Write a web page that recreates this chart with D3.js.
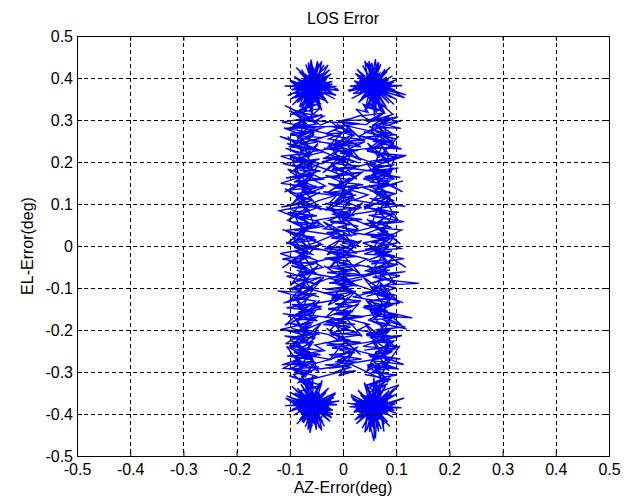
<!DOCTYPE html>
<html>
<head>
<meta charset="utf-8">
<script src="https://cdn.jsdelivr.net/npm/d3@7"></script>
<style>
    html, body { margin: 0; padding: 0; background: #fff; }
    svg { display: block; }
</style>
</head>
<body>
<svg id="chart"></svg>
<script>
// LOS error trace (AZ vs EL). Trace values are in millidegrees.

const WIDTH = 629;
const HEIGHT = 501;
const margin = { top: 36, right: 20, bottom: 45, left: 77 };

const TITLE = "LOS Error";
const X_LABEL = "AZ-Error(deg)";
const Y_LABEL = "EL-Error(deg)";

const xTicks = [-0.5, -0.4, -0.3, -0.2, -0.1, 0, 0.1, 0.2, 0.3, 0.4, 0.5];
const yTicks = [-0.5, -0.4, -0.3, -0.2, -0.1, 0, 0.1, 0.2, 0.3, 0.4, 0.5];
const tickLabels = ["-0.5", "-0.4", "-0.3", "-0.2", "-0.1", "0", "0.1", "0.2", "0.3", "0.4", "0.5"];

// trace pieces in drawing order, [az, el] in mdeg
const topLeftCluster = [
    [-57,381],[-78,362],[-41,395],[-66,352],[-49,371],[-83,389],[-60,407],[-35,376],[-71,384],[-52,358],
    [-29,389],[-64,371],[-88,377],[-55,396],[-46,342],[-73,399],[-58,366],[-39,411],[-62,384],[-80,349],
    [-51,374],[-67,392],[-23,367],[-58,355],[-75,375],[-44,387],[-61,438],[-56,398],[-92,383],[-68,365],
    [-47,361],[-33,394],[-59,379],[-72,410],[-50,386],[-86,369],[-63,345],[-40,372],[-54,403],[-77,391],
    [-58,372],[-45,352],[-26,378],[-69,383],[-53,417],[-62,362],[-81,357],[-48,397],[-57,388],[-38,363],
    [-65,376],[-98,391],[-71,368],[-52,381],[-42,404],[-60,393],[-28,431],[-49,384],[-74,351],[-63,372],
    [-55,359],[-84,379],[-46,370],[-9,373],[-44,388],[-67,402],[-59,383],[-36,348],[-70,364],[-53,391],
    [-77,384],[-61,413],[-50,367],[-32,381],[-66,396],[-56,374],[-89,362],[-64,388],[-43,356],[-58,401],
    [-72,376],[-48,391],[-62,368],[-38,399],[-79,372],[-54,385],[-67,356],[-45,379],[-13,359],[-51,370],
    [-69,389],[-57,426],[-63,394],[-40,383],[-85,396],[-58,361],[-47,374],[-73,381],[-55,343],[-66,369],
    [-49,397],[-31,371],[-61,386],[-76,363],[-53,379],[-43,408],[-68,375],[-59,392],[-95,371],[-60,380],
    [-52,364],[-37,386],[-71,398],[-64,359],[-48,377],[-57,415],[-74,387],[-45,366],[-62,378],[-54,393],
    [-80,373],[-66,350],[-41,362],[-58,388],[-70,404],[-50,382],[-34,396],[-63,365],[-55,376],[-87,388],
    [-47,358],[-61,371],[-73,394],[-52,401],[-39,378],[-65,385],[-58,362],[-20,386],[-56,373],[-76,359],
    [-62,392],[-46,381],[-54,369],[-69,378],[-81,334],[-59,352],[-43,339],[-67,329],[-52,345],[-78,326]
];

const topLeftSpikes = [
    [-55,378],[-90,352],[-60,384],[-82,415],[-52,375],[-48,440],[-58,386],[-25,420],[-61,372],[-12,380],
    [-54,381],[-28,340],[-59,376],[-62,318],[-56,383],[-95,336],[-63,379],[-100,395],[-50,372],[-70,432],
    [-57,387],[-36,431],[-62,370],[-18,362],[-53,385],[-40,322],[-60,377],[-80,330],[-55,374],[-97,372],
    [-58,390],[-88,425],[-51,379],[-60,444],[-64,383],[-30,405],[-56,371],[-20,392],[-57,382],[-45,328],
    [-61,375],[-74,315],[-53,388],[-104,358],[-59,380],[-92,404],[-55,376],[-65,437],[-62,384],[-40,440],
    [-50,373],[-15,350],[-58,379],[-33,350],[-56,385],[-58,310],[-63,374],[-86,341],[-52,381],[-110,381],
    [-57,377],[-78,420],[-60,386],[-55,425],[-54,372],[-22,410],[-61,383],[-8,370],[-56,378],[-48,338],
    [-59,384],[-70,322],[-53,376],[-99,350],[-58,381],[-85,395],[-55,380],[-45,435],[-60,377],[-28,385]
];

const leftColumnDown = [
    [-71,331],[-98,312],[-52,338],[-83,319],[-109,334],[-64,305],[-44,327],[-88,316],[-60,298],[-101,322],
    [-76,301],[-39,313],[-93,289],[-57,306],[-115,295],[-69,284],[-82,309],[-48,291],[-104,279],[-73,297],
    [-58,276],[-94,288],[-35,283],[-80,266],[-111,281],[-63,271],[-87,259],[-46,277],[-99,268],[-70,254],
    [-54,265],[-90,247],[-119,261],[-66,242],[-81,258],[-42,249],[-97,236],[-75,252],[-59,231],[-105,244],
    [-72,226],[-48,239],[-86,221],[-108,233],[-61,215],[-94,207],[-37,224],[-79,211],[-55,198],[-101,216],
    [-68,203],[-88,190],[-44,207],[-113,196],[-73,184],[-57,199],[-96,178],[-80,193],[-49,177],[-66,166],
    [-104,183],[-85,164],[-59,172],[-38,159],[-92,152],[-71,168],[-117,149],[-63,141],[-82,157],[-47,139],
    [-99,134],[-76,148],[-55,126],[-89,119],[-109,136],[-67,113],[-43,128],[-84,104],[-60,117],[-95,97],
    [-73,106],[-51,94],[-102,89],[-80,79],[-64,98],[-120,84],[-88,68],[-56,75],[-75,61],[-97,73],
    [-45,58],[-83,49],[-106,62],[-69,42],[-91,36],[-58,51],[-78,27],[-114,39],[-62,18],[-86,31],
    [-50,14],[-99,7],[-72,22],[-39,3],[-81,-6],[-107,9],[-65,-14],[-92,-3],[-55,-21],[-77,-9],
    [-118,-18],[-86,-31],[-61,-25],[-96,-42],[-46,-37],[-74,-49],[-103,-34],[-67,-58],[-88,-51],[-53,-63],
    [-79,-72],[-110,-61],[-62,-79],[-94,-86],[-41,-74],[-84,-95],[-70,-83],[-101,-104],[-57,-98],[-76,-111],
    [-123,-107],[-89,-118],[-50,-113],[-72,-126],[-98,-131],[-64,-122],[-83,-141],[-44,-135],[-106,-147],[-69,-152],
    [-91,-139],[-56,-158],[-78,-166],[-113,-161],[-63,-172],[-95,-179],[-47,-169],[-81,-188],[-102,-183],[-70,-196],
    [-59,-187],[-88,-203],[-116,-198],[-73,-212],[-45,-206],[-94,-219],[-65,-226],[-84,-214],[-108,-233],[-55,-229],
    [-77,-241],[-97,-236],[-62,-252],[-87,-247],[-42,-259],[-105,-262],[-71,-268],[-83,-257],[-54,-276],[-99,-281],
    [-67,-287],[-86,-273],[-112,-291],[-58,-298],[-79,-306],[-95,-294],[-48,-311],[-74,-318],[-101,-309],[-63,-326]
];

const bottomLeftCluster = [
    [-55,-371],[-76,-356],[-39,-389],[-64,-398],[-48,-364],[-82,-382],[-58,-412],[-33,-377],[-69,-369],[-52,-391],
    [-27,-384],[-62,-352],[-87,-373],[-54,-406],[-44,-361],[-71,-394],[-57,-381],[-38,-419],[-60,-366],[-79,-401],
    [-50,-378],[-66,-359],[-22,-392],[-57,-387],[-74,-411],[-43,-370],[-62,-433],[-53,-397],[-90,-386],[-67,-374],
    [-46,-348],[-31,-398],[-58,-383],[-73,-363],[-49,-402],[-85,-389],[-64,-414],[-40,-381],[-55,-357],[-78,-395],
    [-57,-376],[-44,-416],[-24,-369],[-68,-387],[-52,-361],[-61,-404],[-83,-379],[-47,-391],[-58,-367],[-36,-384],
    [-66,-396],[-108,-362],[-70,-378],[-51,-372],[-41,-399],[-59,-388],[-29,-357],[-48,-380],[-75,-421],[-62,-385],
    [-54,-365],[-85,-392],[-45,-375],[-14,-352],[-43,-381],[-68,-403],[-58,-390],[-35,-362],[-71,-384],[-52,-426],
    [-76,-387],[-60,-371],[-49,-394],[-31,-373],[-65,-380],[-55,-409],[-91,-377],[-63,-366],[-42,-388],[-57,-398],
    [-73,-376],[-47,-355],[-61,-383],[-37,-394],[-80,-368],[-53,-379],[-68,-413],[-44,-392],[-19,-399],[-50,-384],
    [-70,-372],[-58,-430],[-62,-389],[-39,-378],[-86,-364],[-57,-397],[-46,-386],[-74,-359],[-54,-405],[-67,-381],
    [-48,-370],[-30,-389],[-60,-377],[-77,-396],[-52,-353],[-42,-384],[-69,-391],[-58,-369],[-96,-389],[-59,-376],
    [-51,-401],[-36,-366],[-72,-379],[-63,-417],[-47,-388],[-56,-363],[-75,-374],[-44,-395],[-61,-382],[-53,-358],
    [-81,-391],[-65,-406],[-40,-383],[-57,-372],[-71,-355],[-49,-377],[-33,-368],[-62,-393],[-54,-381],[-88,-372],
    [-46,-398],[-60,-386],[-74,-367],[-51,-361],[-38,-385],[-64,-379],[-57,-402],[-21,-375],[-55,-387],[-77,-394],
    [-61,-368],[-45,-381],[-53,-393],[-68,-384],[-82,-346],[-58,-338],[-42,-331],[-66,-322],[-50,-341],[-76,-318]
];

const bottomLeftSpikes = [
    [-55,-376],[-90,-350],[-60,-380],[-82,-414],[-52,-372],[-50,-438],[-58,-384],[-24,-418],[-61,-370],[-11,-378],
    [-54,-379],[-27,-338],[-59,-374],[-63,-315],[-56,-381],[-96,-334],[-63,-377],[-101,-394],[-50,-370],[-71,-431],
    [-57,-385],[-35,-429],[-62,-368],[-17,-361],[-53,-383],[-39,-320],[-60,-375],[-79,-329],[-55,-372],[-98,-371],
    [-58,-388],[-87,-424],[-51,-377],[-62,-445],[-64,-381],[-29,-404],[-56,-369],[-19,-391],[-57,-380],[-44,-326],
    [-61,-373],[-75,-313],[-53,-386],[-106,-357],[-59,-378],[-93,-403],[-55,-374],[-66,-437],[-62,-382],[-40,-439],
    [-50,-371],[-14,-349],[-58,-377],[-32,-349],[-56,-383],[-57,-308],[-63,-372],[-86,-339],[-52,-379],[-109,-380],
    [-57,-375],[-77,-419],[-60,-384],[-54,-424],[-54,-370],[-21,-409],[-61,-381],[-7,-369],[-56,-376],[-47,-336],
    [-59,-382],[-69,-320],[-53,-374],[-100,-348],[-58,-379],[-84,-394],[-55,-378],[-44,-434],[-60,-375],[-27,-384]
];

const leftColumnUp = [
    [-93,-306],[-61,-297],[-79,-311],[-45,-288],[-104,-293],[-70,-279],[-88,-296],[-55,-274],[-115,-283],[-75,-266],
    [-49,-261],[-92,-252],[-66,-271],[-83,-243],[-39,-249],[-101,-238],[-72,-257],[-58,-232],[-95,-227],[-78,-244],
    [-53,-219],[-110,-214],[-68,-228],[-86,-203],[-44,-211],[-97,-196],[-63,-207],[-81,-188],[-118,-199],[-56,-181],
    [-76,-192],[-91,-172],[-48,-178],[-69,-163],[-103,-168],[-59,-151],[-84,-157],[-40,-144],[-96,-139],[-73,-152],
    [-52,-131],[-88,-124],[-112,-136],[-65,-117],[-80,-109],[-45,-121],[-99,-101],[-71,-94],[-57,-108],[-93,-86],
    [-76,-79],[-50,-91],[-106,-72],[-63,-66],[-87,-58],[-38,-71],[-97,-47],[-69,-53],[-82,-38],[-54,-44],
    [-114,-31],[-73,-24],[-46,-36],[-91,-13],[-60,-19],[-85,-4],[-42,-9],[-101,6],[-67,-1],[-79,14],
    [-53,21],[-95,28],[-71,12],[-109,37],[-58,44],[-84,33],[-40,52],[-98,58],[-66,49],[-77,67],
    [-49,72],[-104,79],[-62,86],[-89,71],[-43,94],[-74,101],[-116,93],[-56,109],[-83,116],[-68,104],
    [-95,124],[-51,131],[-78,121],[-36,139],[-100,146],[-64,137],[-87,154],[-47,159],[-72,166],[-107,162],
    [-59,174],[-82,181],[-42,178],[-96,193],[-66,187],[-53,201],[-89,208],[-74,196],[-117,214],[-61,221],
    [-85,216],[-44,229],[-102,236],[-69,243],[-57,231],[-93,252],[-76,246],[-38,258],[-99,264],[-63,271],
    [-81,262],[-50,283],[-108,279],[-71,291],[-88,301],[-55,296],[-36,309],[-77,316],[-60,304],[-43,288],
    [-24,297],[-7,281],[-31,268],[4,289],[-16,276],[22,262],[-12,291],[9,274],[-27,255],[14,246]
];

const middleColumnDown = [
    [-18,252],[27,241],[-5,259],[34,236],[-29,244],[8,231],[-14,238],[41,248],[2,226],[-36,233],
    [19,219],[-9,227],[-31,212],[12,205],[-21,221],[30,198],[-3,209],[-40,201],[16,192],[-12,214],
    [6,186],[-26,179],[25,188],[-7,171],[37,176],[-17,164],[11,158],[-33,168],[0,151],[22,163],
    [-14,144],[31,137],[-28,149],[7,131],[-5,141],[18,124],[-37,129],[3,117],[26,110],[-11,122],
    [-24,104],[13,97],[-4,109],[35,91],[-19,86],[9,79],[-32,93],[21,73],[-8,66],[15,81],
    [-27,61],[4,54],[29,47],[-13,58],[-36,41],[11,35],[-2,48],[24,27],[-20,22],[7,16],
    [33,8],[-10,12],[-29,-2],[17,-8],[-5,4],[26,-17],[-22,-13],[3,-24],[-35,-29],[13,-36],
    [-8,-41],[30,-47],[-17,-53],[9,-59],[-30,-63],[21,-71],[-3,-66],[-24,-78],[15,-85],[36,-79],
    [-12,-91],[5,-97],[-33,-103],[24,-108],[-6,-115],[-21,-121],[11,-127],[32,-133],[-15,-138],[1,-145],
    [-28,-151],[19,-156],[-9,-163],[40,-168],[-19,-174],[7,-181],[-37,-187],[14,-193],[-4,-198],[27,-205],
    [-23,-211],[3,-217],[-14,-224],[33,-229],[-31,-236],[10,-241],[-6,-248],[22,-254],[-26,-259],[6,-266],
    [-11,-272],[29,-277],[-34,-283],[16,-289],[-2,-294],[-19,-302],[24,-297],[-8,-309],[11,-286],[-27,-291]
];

const middleColumnUp = [
    [18,-281],[-15,-276],[35,-269],[-4,-262],[-30,-271],[9,-255],[26,-248],[-21,-243],[2,-236],[-36,-230],
    [14,-224],[-9,-219],[31,-212],[-25,-207],[5,-199],[-13,-192],[23,-186],[-32,-181],[-1,-175],[37,-169],
    [-18,-162],[10,-156],[-28,-149],[19,-143],[-6,-137],[34,-131],[-22,-124],[1,-118],[-37,-112],[15,-106],
    [-10,-99],[28,-93],[-26,-88],[6,-81],[-16,-74],[39,-69],[-3,-63],[20,-57],[-33,-51],[12,-44],
    [-8,-38],[-27,-31],[24,-25],[-14,-19],[8,-12],[-35,-6],[30,1],[-2,7],[16,14],[-22,19],
    [4,26],[-31,32],[27,38],[-11,45],[13,51],[-24,57],[36,63],[-5,70],[-19,76],[9,83],
    [31,89],[-14,95],[-34,101],[18,108],[-3,114],[25,121],[-27,127],[7,133],[-16,139],[38,146],
    [-8,152],[14,158],[-30,165],[21,171],[-1,177],[-20,184],[33,190],[-12,196],[5,203],[-38,209],
    [17,215],[-6,221],[29,228],[-25,234],[10,240],[-15,247],[42,253],[-3,259],[-32,266],[19,272],
    [4,278],[-20,284],[31,291],[-9,297],[14,303],[36,312],[24,326],[47,318],[38,337],[55,329]
];

const topRightCluster = [
    [56,372],[78,388],[41,359],[63,401],[49,381],[84,366],[59,394],[35,377],[70,353],[52,386],
    [28,369],[65,397],[89,382],[54,358],[45,408],[74,374],[58,363],[39,391],[62,417],[81,379],
    [50,386],[67,369],[22,392],[57,351],[76,398],[43,376],[54,436],[61,389],[93,371],[68,383],
    [47,364],[33,391],[59,374],[72,347],[51,401],[86,387],[64,361],[40,382],[55,412],[79,369],
    [58,379],[44,397],[25,373],[69,366],[53,424],[62,385],[82,402],[48,356],[57,391],[37,381],
    [66,372],[116,353],[71,384],[52,393],[42,362],[61,377],[67,437],[49,398],[75,388],[63,366],
    [55,381],[85,359],[46,379],[11,368],[44,393],[68,374],[59,352],[36,386],[71,405],[53,371],
    [77,392],[60,364],[50,383],[31,396],[66,377],[56,409],[90,386],[64,371],[43,355],[58,389],
    [73,376],[48,367],[62,395],[38,382],[80,361],[54,372],[67,402],[45,387],[104,364],[51,379],
    [70,391],[57,415],[63,373],[40,361],[86,383],[58,396],[47,377],[74,366],[55,426],[66,385],
    [49,358],[30,381],[61,392],[77,371],[53,362],[43,385],[69,411],[59,378],[96,391],[60,369],
    [52,388],[37,372],[72,359],[64,394],[48,379],[57,348],[75,382],[45,401],[62,367],[54,384],
    [81,396],[66,374],[41,386],[58,365],[71,378],[50,399],[34,369],[63,382],[55,357],[88,373],
    [47,392],[61,380],[73,363],[52,375],[39,387],[65,368],[57,394],[19,381],[56,366],[76,384],
    [62,371],[46,357],[54,345],[69,338],[82,329],[58,342],[43,331],[67,322],[51,336],[78,317]
];

const topRightSpikes = [
    [56,379],[91,353],[60,383],[83,416],[52,374],[49,441],[58,387],[26,421],[61,371],[13,381],
    [54,382],[29,341],[59,375],[63,317],[56,384],[96,337],[63,378],[101,396],[50,373],[71,433],
    [57,386],[37,430],[62,369],[19,363],[53,386],[41,321],[60,376],[81,331],[55,375],[98,371],
    [58,391],[89,426],[51,378],[61,445],[64,382],[31,406],[56,372],[21,393],[57,381],[46,327],
    [61,374],[75,314],[53,389],[118,360],[59,379],[93,405],[55,377],[66,438],[62,383],[41,441],
    [50,374],[16,351],[58,378],[34,351],[56,386],[59,309],[63,373],[87,340],[52,382],[111,382],
    [57,376],[79,421],[60,387],[56,426],[54,371],[23,411],[61,382],[9,371],[56,379],[49,337],
    [59,383],[71,321],[53,377],[100,349],[58,380],[86,396],[55,381],[46,436],[60,376],[29,386]
];

const rightColumnDown = [
    [94,313],[61,301],[79,319],[44,296],[103,307],[70,291],[88,311],[55,287],[112,299],[74,283],
    [50,276],[92,268],[66,289],[83,261],[39,272],[101,254],[72,266],[58,249],[96,244],[78,259],
    [53,236],[110,231],[68,247],[86,219],[45,226],[97,212],[63,223],[81,205],[119,216],[56,198],
    [76,209],[91,189],[48,195],[69,181],[104,186],[59,171],[84,176],[41,165],[97,159],[73,171],
    [52,152],[88,146],[113,155],[65,138],[80,131],[46,142],[99,124],[71,117],[57,129],[94,109],
    [76,103],[50,114],[107,96],[63,89],[87,83],[39,93],[98,74],[69,79],[82,64],[54,71],
    [115,58],[73,52],[46,62],[91,44],[60,38],[85,49],[42,29],[101,23],[67,31],[79,15],
    [53,9],[95,2],[71,17],[109,-6],[58,-11],[84,-1],[40,-19],[98,-24],[66,-14],[77,-33],
    [49,-37],[104,-44],[62,-51],[89,-39],[43,-59],[74,-66],[117,-61],[56,-74],[83,-81],[143,-89],
    [92,-92],[51,-98],[78,-104],[36,-111],[100,-117],[64,-109],[87,-126],[47,-132],[72,-139],[107,-135],
    [59,-147],[82,-153],[42,-149],[96,-161],[130,-171],[66,-167],[53,-179],[89,-186],[74,-174],[117,-193],
    [61,-199],[85,-206],[44,-213],[102,-218],[69,-211],[56,-226],[93,-233],[76,-221],[38,-239],[99,-245],
    [63,-251],[81,-258],[50,-264],[108,-269],[71,-262],[88,-277],[45,-283],[96,-289],[66,-296],[79,-282],
    [54,-301],[101,-307],[72,-313],[41,-306],[90,-318],[62,-324],[83,-311],[49,-331],[75,-337],[58,-328]
];

const bottomRightCluster = [
    [55,-372],[77,-388],[40,-361],[64,-399],[48,-379],[84,-367],[60,-395],[34,-380],[71,-354],[52,-389],
    [27,-371],[66,-401],[89,-384],[55,-357],[44,-411],[75,-376],[57,-364],[38,-393],[63,-419],[82,-381],
    [49,-387],[68,-370],[21,-394],[58,-352],[77,-399],[42,-377],[58,-464],[60,-391],[94,-372],[67,-384],
    [46,-366],[32,-392],[60,-376],[73,-348],[50,-403],[87,-389],[65,-362],[39,-384],[56,-414],[80,-371],
    [57,-380],[43,-398],[24,-375],[70,-367],[52,-426],[63,-387],[105,-331],[47,-357],[58,-393],[36,-382],
    [67,-374],[77,-442],[72,-386],[51,-395],[41,-363],[62,-379],[55,-431],[48,-399],[76,-389],[64,-367],
    [54,-383],[86,-361],[45,-381],[15,-358],[43,-394],[69,-376],[60,-353],[35,-387],[72,-407],[52,-372],
    [78,-393],[61,-366],[49,-384],[30,-397],[67,-379],[55,-411],[92,-388],[65,-373],[42,-356],[59,-391],
    [74,-377],[47,-369],[63,-396],[37,-383],[81,-362],[53,-374],[68,-404],[44,-389],[99,-371],[50,-381],
    [71,-392],[56,-418],[64,-375],[39,-363],[88,-385],[59,-398],[46,-378],[75,-367],[54,-428],[67,-386],
    [48,-359],[29,-382],[62,-394],[78,-373],[52,-363],[42,-386],[70,-413],[58,-379],[97,-392],[61,-371],
    [51,-389],[36,-373],[73,-360],[65,-396],[47,-381],[56,-349],[76,-384],[44,-402],[63,-368],[53,-385],
    [83,-397],[67,-376],[40,-388],[57,-366],[72,-380],[49,-401],[33,-370],[64,-383],[54,-358],[90,-375],
    [46,-394],[60,-382],[74,-364],[51,-377],[38,-389],[66,-369],[56,-396],[18,-383],[55,-367],[77,-386],
    [63,-372],[45,-358],[53,-346],[70,-339],[84,-328],[57,-343],[42,-332],[68,-321],[50,-337],[79,-316]
];

const bottomRightSpikes = [
    [56,-381],[92,-355],[60,-385],[84,-419],[52,-377],[50,-443],[58,-389],[25,-423],[61,-375],[12,-383],
    [54,-384],[28,-343],[59,-379],[64,-320],[56,-386],[97,-339],[63,-382],[102,-399],[50,-375],[72,-436],
    [57,-390],[36,-434],[62,-373],[18,-366],[53,-388],[40,-325],[60,-380],[80,-334],[55,-377],[99,-376],
    [58,-393],[88,-429],[51,-382],[61,-458],[64,-386],[30,-409],[56,-374],[20,-396],[57,-385],[45,-331],
    [61,-378],[76,-318],[53,-391],[115,-362],[59,-383],[94,-408],[55,-379],[67,-442],[62,-387],[41,-444],
    [50,-376],[15,-354],[58,-382],[33,-354],[56,-388],[58,-313],[63,-377],[87,-344],[52,-384],[110,-385],
    [57,-380],[78,-424],[60,-389],[55,-429],[54,-375],[22,-414],[61,-386],[8,-374],[56,-381],[48,-341],
    [59,-387],[70,-325],[53,-379],[101,-353],[58,-384],[85,-399],[55,-383],[45,-439],[60,-380],[28,-389]
];

const rightColumnUp = [
    [92,-307],[59,-296],[80,-312],[46,-287],[105,-293],[71,-278],[87,-297],[54,-273],[114,-282],[76,-265],
    [48,-260],[93,-251],[65,-270],[84,-242],[40,-248],[102,-237],[73,-256],[57,-231],[96,-226],[79,-243],
    [52,-218],[111,-213],[67,-227],[87,-202],[43,-210],[98,-195],[62,-206],[82,-187],[120,-198],[55,-180],
    [77,-191],[92,-171],[47,-177],[68,-162],[104,-167],[58,-150],[85,-156],[39,-143],[97,-138],[74,-151],
    [51,-130],[89,-123],[113,-135],[64,-116],[81,-108],[44,-120],[100,-100],[70,-93],[56,-107],[94,-85],
    [77,-78],[49,-90],[107,-71],[62,-65],[88,-57],[37,-70],[98,-46],[68,-52],[83,-37],[53,-43],
    [115,-30],[72,-23],[45,-35],[92,-12],[59,-18],[86,-3],[41,-8],[102,7],[66,0],[80,15],
    [52,22],[96,29],[70,13],[110,38],[57,45],[85,34],[39,53],[99,59],[65,50],[78,68],
    [48,73],[105,80],[61,87],[90,72],[42,95],[75,102],[117,94],[55,110],[84,117],[67,105],
    [96,125],[50,132],[79,122],[35,140],[101,147],[63,138],[88,155],[46,160],[73,167],[108,163],
    [58,175],[83,182],[41,179],[97,194],[65,188],[52,202],[90,209],[75,197],[118,215],[60,222],
    [86,217],[43,230],[103,237],[68,244],[56,232],[94,253],[77,247],[37,259],[100,265],[62,272],
    [82,263],[49,284],[109,280],[70,292],[89,302],[54,297],[35,310],[78,317],[61,305],[44,289]
];

const leftStreaks = [
    [-70,300],[-85,255],[-62,289],[-95,238],[-54,272],[-78,226],[-104,261],[-66,210],[-47,244],[-88,199],
    [-72,237],[-58,185],[-99,214],[-81,168],[-45,197],[-68,152],[-92,183],[-76,139],[-55,171],[-110,128],
    [-64,158],[-84,112],[-50,144],[-97,99],[-73,131],[-41,86],[-88,117],[-60,73],[-79,104],[-103,60],
    [-67,91],[-53,46],[-93,78],[-74,31],[-46,63],[-86,17],[-62,49],[-107,4],[-77,36],[-57,-9],
    [-95,22],[-70,-24],[-42,8],[-83,-39],[-65,-6],[-114,-52],[-76,-18],[-52,-66],[-90,-33],[-69,-80],
    [-47,-47],[-99,-94],[-80,-61],[-59,-107],[-36,-74],[-87,-121],[-71,-88],[-104,-135],[-56,-101],[-78,-149],
    [-94,-116],[-63,-162],[-44,-129],[-85,-176],[-69,-143],[-109,-189],[-53,-157],[-76,-203],[-91,-170],[-60,-217],
    [-41,-184],[-82,-231],[-67,-198],[-98,-244],[-52,-212],[-73,-258],[-88,-225],[-57,-272],[-106,-239],[-79,-286],
    [-63,-253],[-46,-299],[-90,-266],[-71,-312],[-55,-280],[-84,-325]
];

const middleStreaks = [
    [-5,-300],[18,-255],[-14,-289],[28,-240],[-26,-272],[4,-226],[33,-259],[-9,-211],[21,-245],[-31,-196],
    [8,-230],[-17,-182],[36,-215],[2,-167],[-24,-200],[15,-152],[-6,-186],[30,-137],[-34,-171],[10,-122],
    [-13,-156],[24,-107],[-28,-141],[1,-92],[38,-126],[-20,-77],[12,-111],[-8,-62],[27,-96],[-36,-47],
    [6,-81],[-15,-32],[32,-66],[-3,-17],[-25,-51],[19,-2],[-10,-36],[35,13],[-30,-21],[3,28],
    [25,-6],[-19,43],[9,9],[-37,58],[14,24],[-4,73],[29,39],[-23,88],[0,54],[37,103],
    [-12,69],[20,118],[-33,84],[7,133],[-16,99],[31,148],[-7,114],[13,163],[-27,129],[39,178],
    [2,144],[-20,193],[26,159],[-9,208],[-38,174],[16,223],[5,189],[-25,238],[34,204],[-2,253],
    [-15,219],[22,268],[-30,234],[10,283],[40,249],[-6,298]
];

const rightStreaks = [
    [70,302],[86,256],[61,290],[96,239],[53,273],[79,227],[105,262],[67,211],[46,245],[89,200],
    [73,238],[57,186],[100,215],[82,169],[44,198],[69,153],[93,184],[77,140],[54,172],[112,129],
    [63,159],[85,113],[49,145],[98,100],[74,132],[40,87],[89,118],[59,74],[80,105],[104,61],
    [66,92],[52,47],[94,79],[75,32],[45,64],[87,18],[61,50],[108,5],[78,37],[56,-8],
    [96,23],[71,-23],[41,9],[84,-38],[64,-5],[118,-51],[77,-17],[51,-65],[91,-32],[68,-79],
    [46,-46],[100,-93],[81,-60],[58,-106],[37,-73],[88,-120],[70,-87],[105,-134],[55,-100],[79,-148],
    [95,-115],[62,-161],[43,-128],[86,-175],[68,-142],[110,-188],[52,-156],[77,-202],[92,-169],[59,-216],
    [40,-183],[83,-230],[66,-197],[99,-243],[51,-211],[74,-257],[89,-224],[56,-271],[107,-238],[80,-285],
    [62,-252],[45,-298],[91,-265],[70,-311],[54,-279],[85,-324]
];

const rightBridge = [
    [12,-280],[78,-266],[35,-252],[-4,-239],[57,-227],[86,-214],[28,-200],[49,-187],[8,-173],[71,-161],
    [40,-147],[89,-135],[18,-121],[61,-108],[33,-96],[-2,-83],[52,-69],[79,-57],[24,-44],[45,-31],
    [5,-18],[68,-6],[37,7],[88,19],[15,32],[56,45],[30,58],[-3,71],[62,84],[84,96],
    [21,109],[47,122],[9,135],[73,147],[38,160],[90,172],[14,185],[55,198],[27,211],[-1,224],
    [66,236],[82,249],[31,262],[50,274],[7,286]
];

const leftBridge = [
    [-80,282],[-20,265],[-62,251],[2,240],[-48,226],[-75,244],[-12,211],[-40,196],[-83,205],[-28,181],
    [-3,169],[-57,158],[-33,143],[-78,131],[-15,120],[-46,108],[-68,96],[-24,85],[4,73],[-52,61],
    [-36,47],[-81,38],[-18,26],[-44,12],[-70,0],[-29,-12],[-6,-25],[-55,-38],[-38,-51],[-76,-62],
    [-21,-74],[-49,-88],[-65,-101],[-31,-113],[1,-125],[-58,-138],[-42,-150],[-84,-161],[-16,-172],[-47,-186],
    [-71,-199],[-27,-211],[-8,-224],[-53,-236],[-35,-249],[-79,-258],[-23,-270],[-60,-282],[-43,-293],[-3,-285]
];

const losTraceMdeg = [].concat(
    topLeftCluster, topLeftSpikes, leftColumnDown, bottomLeftCluster, bottomLeftSpikes, leftColumnUp,
    middleColumnDown, middleColumnUp, topRightCluster, topRightSpikes, rightColumnDown,
    bottomRightCluster, bottomRightSpikes, rightColumnUp, leftStreaks, middleStreaks, rightStreaks,
    rightBridge, leftBridge
);
const losTrace = losTraceMdeg.map(d => [d[0] / 1000, d[1] / 1000]);

const FONT = "Arial, 'Liberation Sans', Helvetica, sans-serif";

const svg = d3.select("#chart")
    .attr("width", WIDTH)
    .attr("height", HEIGHT);

const x = d3.scaleLinear()
    .domain([-0.5, 0.5])
    .range([margin.left, WIDTH - margin.right]);

const y = d3.scaleLinear()
    .domain([-0.5, 0.5])
    .range([HEIGHT - margin.bottom, margin.top]);

// --- data trace ---
const line = d3.line()
    .x(d => x(d[0]))
    .y(d => y(d[1]));

svg.append("path")
    .datum(losTrace)
    .attr("d", line)
    .attr("fill", "none")
    .attr("stroke", "#0000ff")
    .attr("stroke-width", 1.4)
    .attr("stroke-linejoin", "miter");

// --- dashed grid (drawn over the trace, like the original) ---
const grid = svg.append("g").attr("class", "grid");

grid.selectAll("line.vgrid")
    .data(xTicks.slice(1, -1))
    .join("line")
    .attr("class", "vgrid")
    .attr("x1", d => Math.round(x(d)) + 0.5).attr("x2", d => Math.round(x(d)) + 0.5)
    .attr("y1", y(0.5)).attr("y2", y(-0.5))
    .attr("stroke", "#000")
    .attr("stroke-width", 1)
    .attr("stroke-dasharray", "4,3");

grid.selectAll("line.hgrid")
    .data(yTicks.slice(1, -1))
    .join("line")
    .attr("class", "hgrid")
    .attr("x1", x(-0.5)).attr("x2", x(0.5))
    .attr("y1", d => Math.round(y(d)) + 0.5).attr("y2", d => Math.round(y(d)) + 0.5)
    .attr("stroke", "#000")
    .attr("stroke-width", 1)
    .attr("stroke-dasharray", "4,3");

// --- axes (inward ticks, full box) ---
const xAxis = svg.append("g")
    .attr("transform", `translate(0,${y(-0.5)})`)
    .call(d3.axisBottom(x).tickValues(xTicks).tickFormat(d => tickLabels[xTicks.indexOf(d)])
        .tickSize(-5).tickPadding(8));

const yAxis = svg.append("g")
    .attr("transform", `translate(${x(-0.5)},0)`)
    .call(d3.axisLeft(y).tickValues(yTicks).tickFormat(d => tickLabels[yTicks.indexOf(d)])
        .tickSize(-5).tickPadding(4));

const topAxis = svg.append("g")
    .attr("transform", `translate(0,${y(0.5)})`)
    .call(d3.axisTop(x).tickValues(xTicks).tickFormat("").tickSize(-5));

const rightAxis = svg.append("g")
    .attr("transform", `translate(${x(0.5)},0)`)
    .call(d3.axisRight(y).tickValues(yTicks).tickFormat("").tickSize(-5));

[xAxis, yAxis, topAxis, rightAxis].forEach(g => {
    g.select(".domain").attr("stroke", "#000").attr("stroke-width", 1);
    g.selectAll(".tick line").attr("stroke", "#000");
    g.selectAll("text")
        .attr("font-family", FONT)
        .attr("font-size", "16px")
        .attr("fill", "#000");
});

// --- titles ---
svg.append("text")
    .attr("x", x(0))
    .attr("y", 24)
    .attr("text-anchor", "middle")
    .attr("font-family", FONT)
    .attr("font-size", "16px")
    .text(TITLE);

svg.append("text")
    .attr("x", x(0))
    .attr("y", 493)
    .attr("text-anchor", "middle")
    .attr("font-family", FONT)
    .attr("font-size", "16px")
    .text(X_LABEL);

svg.append("text")
    .attr("transform", `translate(33,${y(0)}) rotate(-90)`)
    .attr("text-anchor", "middle")
    .attr("font-family", FONT)
    .attr("font-size", "16px")
    .text(Y_LABEL);
</script>
</body>
</html>
